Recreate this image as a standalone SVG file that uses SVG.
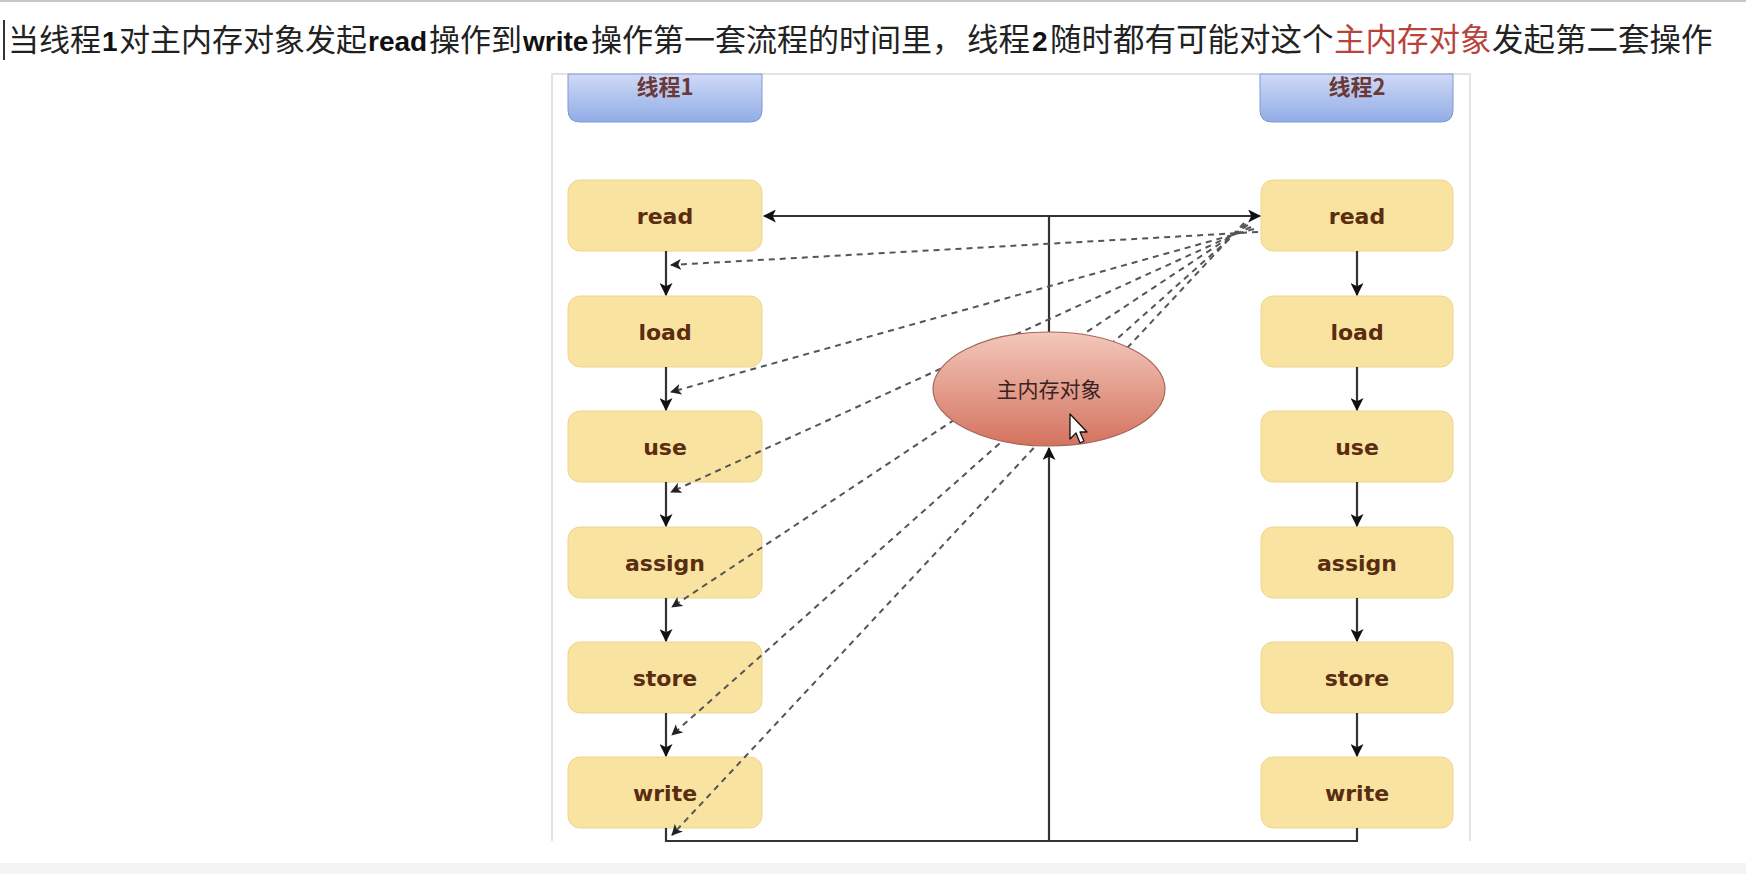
<svg xmlns="http://www.w3.org/2000/svg" width="1746" height="874" viewBox="0 0 1746 874">
<defs>
<style>
.cap{font-family:"Noto Sans CJK SC","Noto Sans",sans-serif;font-size:31px;fill:#222}
.cap2{font-family:"Noto Sans CJK SC","Noto Sans",sans-serif;font-size:31.5px;fill:#222}
.lat{font-family:"Liberation Sans",Arial,sans-serif;font-size:28px;font-weight:bold;fill:#111}
.red{fill:#b8433a}
.box{fill:#f8e3a1;stroke:#efd590;stroke-width:1}
.lbl{font-family:"DejaVu Sans",sans-serif;font-weight:bold;font-size:22px;fill:#5a2c10;text-anchor:middle}
.hdr{font-family:"Noto Sans CJK SC",sans-serif;font-weight:bold;font-size:22px;fill:#6a3838;text-anchor:middle}
.solid{fill:none;stroke:#333;stroke-width:2.2}
.dash{fill:none;stroke:#555;stroke-width:2;stroke-dasharray:6 5}
.frame{stroke:#e3e3e3;stroke-width:2;fill:none}
</style>
<linearGradient id="blue" x1="0" y1="0" x2="0" y2="1">
<stop offset="0" stop-color="#cfdaf6"/>
<stop offset="1" stop-color="#91ace6"/>
</linearGradient>
<linearGradient id="pink" x1="0" y1="0" x2="0" y2="1">
<stop offset="0" stop-color="#f3c8bb"/>
<stop offset="1" stop-color="#d4735f"/>
</linearGradient>
<marker id="ah" viewBox="0 0 12 12" refX="11" refY="6" markerWidth="13" markerHeight="13" markerUnits="userSpaceOnUse" orient="auto">
<path d="M0,0 L12,6 L0,12 L3,6 z" fill="#111"/>
</marker>
<marker id="ahd" viewBox="0 0 12 12" refX="11" refY="6" markerWidth="11" markerHeight="11" markerUnits="userSpaceOnUse" orient="auto">
<path d="M0,0 L12,6 L0,12 L3,6 z" fill="#222"/>
</marker>
</defs>
<rect x="0" y="0" width="1746" height="874" fill="#ffffff"/>
<line x1="0" y1="1" x2="1746" y2="1" stroke="#c8c8c8" stroke-width="2"/>
<rect x="0" y="863" width="1746" height="11" fill="#f3f3f3"/>

<g id="caption">
<line x1="4" y1="20" x2="4" y2="60" stroke="#333" stroke-width="2"/>
<text class="cap" x="8" y="51">当线程</text>
<text class="lat" x="102" y="51">1</text>
<text class="cap" x="119" y="51">对主内存对象发起</text>
<text class="lat" x="368" y="51">read</text>
<text class="cap" x="429" y="51">操作到</text>
<text class="lat" x="523" y="51">write</text>
<text class="cap" x="591" y="51">操作第一套流程的时间里，</text>
<text class="cap2" x="967" y="51">线程</text>
<text class="lat" x="1032" y="51">2</text>
<text class="cap2" x="1050" y="51">随时都有可能对这个</text>
<text class="cap2 red" x="1334" y="51">主内存对象</text>
<text class="cap2" x="1492" y="51">发起第二套操作</text>
</g>

<g id="frame">
<path class="frame" d="M552,841 V74 H1470 V841"/>
</g>

<g id="thread1">
<path d="M568,74 H762 V110 Q762,122 750,122 H580 Q568,122 568,110 Z" fill="url(#blue)" stroke="#8099d2" stroke-width="1"/>
<text class="hdr" x="665" y="95">线程1</text>
</g>
<g id="thread2">
<path d="M1260,74 H1453 V110 Q1453,122 1441,122 H1272 Q1260,122 1260,110 Z" fill="url(#blue)" stroke="#8099d2" stroke-width="1"/>
<text class="hdr" x="1357" y="95">线程2</text>
</g>

<g id="t1-read"><rect class="box" x="568" y="180" width="194" height="71" rx="12"/><text class="lbl" x="665" y="224">read</text></g>
<g id="t1-load"><rect class="box" x="568" y="296" width="194" height="71" rx="12"/><text class="lbl" x="665" y="340">load</text></g>
<g id="t1-use"><rect class="box" x="568" y="411" width="194" height="71" rx="12"/><text class="lbl" x="665" y="455">use</text></g>
<g id="t1-assign"><rect class="box" x="568" y="527" width="194" height="71" rx="12"/><text class="lbl" x="665" y="571">assign</text></g>
<g id="t1-store"><rect class="box" x="568" y="642" width="194" height="71" rx="12"/><text class="lbl" x="665" y="686">store</text></g>
<g id="t1-write"><rect class="box" x="568" y="757" width="194" height="71" rx="12"/><text class="lbl" x="665" y="801">write</text></g>

<g id="t2-read"><rect class="box" x="1261" y="180" width="192" height="71" rx="12"/><text class="lbl" x="1357" y="224">read</text></g>
<g id="t2-load"><rect class="box" x="1261" y="296" width="192" height="71" rx="12"/><text class="lbl" x="1357" y="340">load</text></g>
<g id="t2-use"><rect class="box" x="1261" y="411" width="192" height="71" rx="12"/><text class="lbl" x="1357" y="455">use</text></g>
<g id="t2-assign"><rect class="box" x="1261" y="527" width="192" height="71" rx="12"/><text class="lbl" x="1357" y="571">assign</text></g>
<g id="t2-store"><rect class="box" x="1261" y="642" width="192" height="71" rx="12"/><text class="lbl" x="1357" y="686">store</text></g>
<g id="t2-write"><rect class="box" x="1261" y="757" width="192" height="71" rx="12"/><text class="lbl" x="1357" y="801">write</text></g>

<g id="connectors">
<!-- thread 1 column -->
<line class="solid" x1="666" y1="251" x2="666" y2="295" marker-end="url(#ah)"/>
<line class="solid" x1="666" y1="367" x2="666" y2="410" marker-end="url(#ah)"/>
<line class="solid" x1="666" y1="482" x2="666" y2="526" marker-end="url(#ah)"/>
<line class="solid" x1="666" y1="598" x2="666" y2="641" marker-end="url(#ah)"/>
<line class="solid" x1="666" y1="713" x2="666" y2="756" marker-end="url(#ah)"/>
<!-- thread 2 column -->
<line class="solid" x1="1357" y1="251" x2="1357" y2="295" marker-end="url(#ah)"/>
<line class="solid" x1="1357" y1="367" x2="1357" y2="410" marker-end="url(#ah)"/>
<line class="solid" x1="1357" y1="482" x2="1357" y2="526" marker-end="url(#ah)"/>
<line class="solid" x1="1357" y1="598" x2="1357" y2="641" marker-end="url(#ah)"/>
<line class="solid" x1="1357" y1="713" x2="1357" y2="756" marker-end="url(#ah)"/>
<!-- main memory to read -->
<path class="solid" d="M1049,332 V216 H764" marker-end="url(#ah)"/>
<path class="solid" d="M1049,216 H1260" marker-end="url(#ah)"/>
<!-- write to main memory -->
<path class="solid" d="M666,828 V841 H1049"/>
<path class="solid" d="M1357,828 V841 H1049"/>
<path class="solid" d="M1049,841 V448" marker-end="url(#ah)"/>
<!-- dashed from thread2 read -->
<line class="dash" x1="1258" y1="232" x2="671" y2="265" marker-end="url(#ahd)"/>
<line class="dash" x1="1254" y1="229" x2="671" y2="392" marker-end="url(#ahd)"/>
<line class="dash" x1="1251" y1="227" x2="671" y2="492" marker-end="url(#ahd)"/>
<line class="dash" x1="1248" y1="225" x2="672" y2="607" marker-end="url(#ahd)"/>
<line class="dash" x1="1246" y1="224" x2="672" y2="735" marker-end="url(#ahd)"/>
<line class="dash" x1="1244" y1="223" x2="672" y2="835" marker-end="url(#ahd)"/>
</g>

<g id="main-memory">
<ellipse cx="1049" cy="389" rx="116" ry="57" fill="url(#pink)" stroke="#a5665a" stroke-width="1.2"/>
<text x="1049" y="397" text-anchor="middle" style="font-family:'Noto Sans CJK SC',sans-serif;font-size:21px;fill:#3a2222">主内存对象</text>
</g>

<g id="cursor">
<polygon points="1070,414 1070,439 1076,433 1080,443 1084,441 1080,432 1087,432" fill="#ffffff" stroke="#111" stroke-width="1.3" stroke-linejoin="round"/>
</g>
</svg>
